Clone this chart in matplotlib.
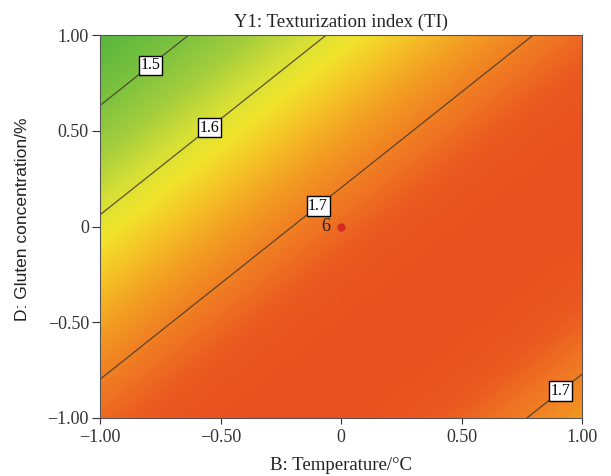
import numpy as np
import matplotlib
matplotlib.use("Agg")
import matplotlib.pyplot as plt
from matplotlib.colors import LinearSegmentedColormap

# Fitted quadratic model for texturization index, coded factors B (temperature) and D (gluten)
term_names = ["const", "B", "D", "BD", "B2", "D2"]
coefficients = [1.7147, 0.0645, -0.0645, 0.0822, -0.0411, -0.0411]

contour_levels = [1.5, 1.6, 1.7]
label_points = [(-0.80, 0.86), (-0.56, 0.54), (-0.11, 0.13), (0.90, -0.84)]

tick_values = [-1.0, -0.5, 0.0, 0.5, 1.0]
tick_labels = ["\u22121.00", "\u22120.50", "0", "0.50", "1.00"]

center_point = (0.0, 0.0)
center_replicates = 6


def ti_model(b, d):
    c0, cb, cd, cbd, cbb, cdd = coefficients
    return c0 + cb * b + cd * d + cbd * b * d + cbb * b ** 2 + cdd * d ** 2


b = np.linspace(-1, 1, 301)
d = np.linspace(-1, 1, 301)
B, D = np.meshgrid(b, d)
Z = ti_model(B, D)

# green -> yellow -> orange -> red response colour scale
vmin, vmax = 1.42, 1.74
stops = [(1.42, "#55b53c"), (1.50, "#7ec23e"), (1.55, "#a6ce3c"), (1.59, "#d6df36"),
         (1.62, "#f1e42c"), (1.65, "#f5c226"), (1.68, "#f29a22"), (1.71, "#ef7322"),
         (1.725, "#ea5a20"), (1.74, "#e8501f")]
cmap = LinearSegmentedColormap.from_list(
    "ti", [((v - vmin) / (vmax - vmin), c) for v, c in stops])

plt.rcParams["font.family"] = "Liberation Serif"

fig = plt.figure(figsize=(6.11, 4.76), dpi=100)
ax = fig.add_axes([100 / 611, 1 - 418 / 476, 482 / 611, 383 / 476])

ax.pcolormesh(B, D, Z, cmap=cmap, vmin=vmin, vmax=vmax, shading="gouraud")
cs = ax.contour(B, D, Z, levels=contour_levels, colors="#403a30", linewidths=0.9, alpha=0.85)
labels = ax.clabel(cs, fmt="%.1f", manual=label_points, inline=False, fontsize=11.5)
for t in labels:
    t.set_rotation(0)
    t.set_color("black")
    t.set_zorder(5)
    t.set_bbox(dict(facecolor="white", edgecolor="black", linewidth=1.0, pad=1.2))

ax.plot(*center_point, marker="o", ms=5, color="#d42a2a", mec="#d42a2a", zorder=6)
ax.text(center_point[0] - 0.045, center_point[1], str(center_replicates), ha="right",
        va="center", fontsize=13, color="#222222", zorder=6)

ax.set_xlim(-1, 1)
ax.set_ylim(-1, 1)
ax.set_xticks(tick_values)
ax.set_xticklabels(tick_labels)
ax.set_yticks(tick_values)
ax.set_yticklabels(tick_labels)
ax.tick_params(direction="out", width=0.8, labelsize=13, colors="#333333")
ax.tick_params(axis="y", length=6, pad=2)
ax.tick_params(axis="x", length=4, pad=4)
for s in ax.spines.values():
    s.set_color("#555555")
    s.set_linewidth(0.8)

ax.set_title("Y1: Texturization index (TI)", fontsize=13.5, pad=6, color="#222222")
ax.set_xlabel("B: Temperature/\u00b0C", fontsize=13.5, labelpad=8, color="#222222")
ax.set_ylabel("D: Gluten concentration/%", fontsize=12.5, family="Liberation Sans",
              color="#222222")
ax.yaxis.set_label_coords(-0.145, 0.52)

fig.savefig("out.png", dpi=100)
